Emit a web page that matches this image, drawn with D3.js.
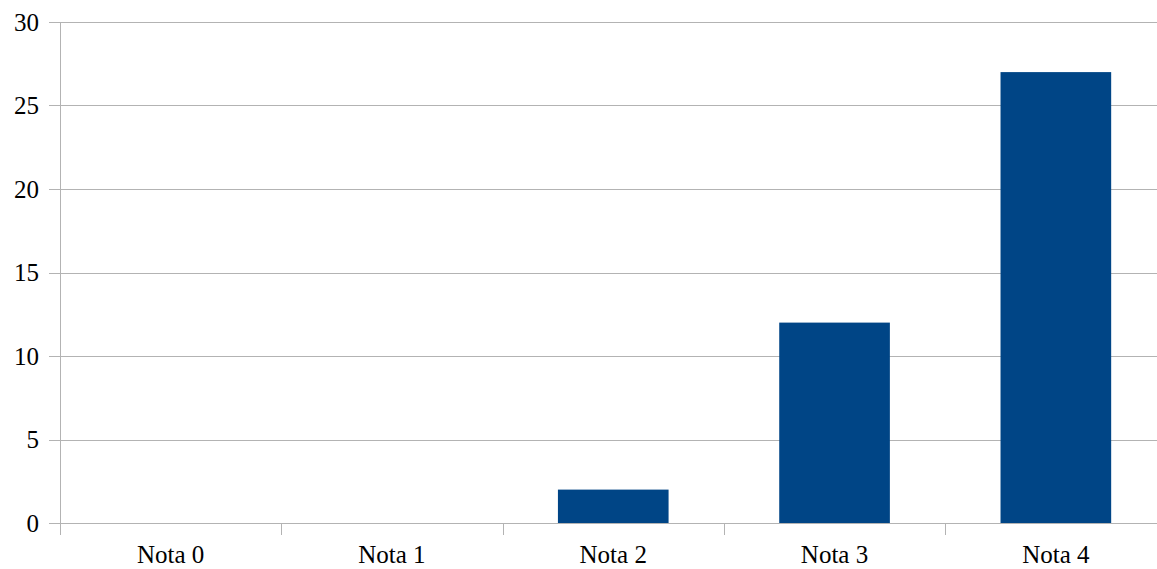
<!DOCTYPE html>
<html><head><meta charset="utf-8">
<script src="https://cdn.jsdelivr.net/npm/d3@7"></script>
<style>
html,body{margin:0;padding:0;background:#fff;}
svg{display:block;}
text{font-family:"Liberation Serif","Times New Roman",serif;fill:#000;}
</style></head>
<body><svg id="c" width="1157" height="569"></svg>
<script>
const categories = ["Nota 0","Nota 1","Nota 2","Nota 3","Nota 4"];
const values = [0,0,2,12,27];
const yTicks = [0,5,10,15,20,25,30];

(function(){
const svg = d3.select("#c");
const mL = 60, mR = 1166.5, mT = 22, mB = 523;
const x = d3.scaleBand().domain(categories).range([mL,mR]).paddingInner(0.5).paddingOuter(0.25);
const y = d3.scaleLinear().domain([0,30]).range([mB,mT]);
const grid = "#b3b3b3";

svg.append("g").selectAll("line").data(yTicks).join("line")
  .attr("x1",mL-11).attr("x2",mR).attr("y1",d=>Math.round(y(d))+0.5).attr("y2",d=>Math.round(y(d))+0.5)
  .attr("stroke",grid).attr("stroke-width",1);

svg.append("line").attr("x1",mL+0.5).attr("x2",mL+0.5).attr("y1",mT).attr("y2",mB+12)
  .attr("stroke",grid);

const step = x.step();
const bounds = d3.range(categories.length+1).map(i=>mL+i*step);
svg.append("g").selectAll("line").data(bounds).join("line")
  .attr("x1",d=>Math.round(d)+0.5).attr("x2",d=>Math.round(d)+0.5).attr("y1",mB).attr("y2",mB+12)
  .attr("stroke",grid);

svg.append("g").selectAll("rect").data(values).join("rect")
  .attr("x",(d,i)=>x(categories[i])).attr("width",x.bandwidth())
  .attr("y",d=>y(d)).attr("height",d=>y(0)-y(d))
  .attr("fill","#004586");

svg.append("line").attr("x1",mL-11).attr("x2",mR).attr("y1",Math.round(y(0))+0.5).attr("y2",Math.round(y(0))+0.5).attr("stroke",grid);

svg.append("g").selectAll("text").data(yTicks).join("text")
  .attr("x",39).attr("y",d=>y(d)+8.5).attr("text-anchor","end")
  .attr("font-size",25).text(d=>d);

svg.append("g").selectAll("text").data(categories).join("text")
  .attr("x",d=>x(d)+x.bandwidth()/2).attr("y",563).attr("text-anchor","middle")
  .attr("font-size",25).text(d=>d);
})();
</script></body></html>
